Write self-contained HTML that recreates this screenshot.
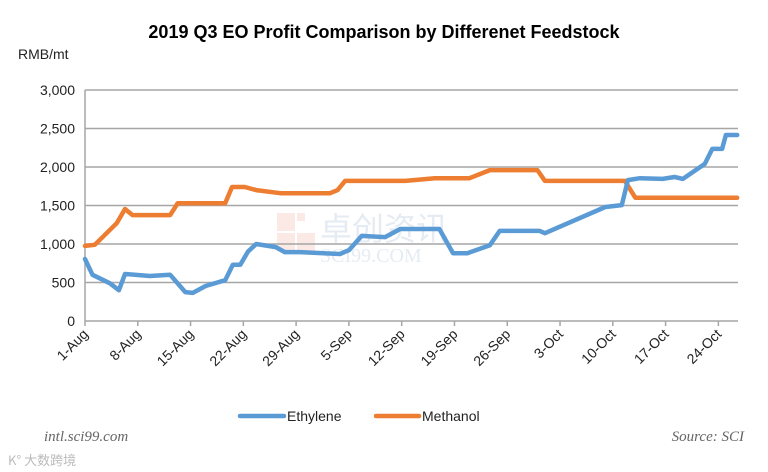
<!DOCTYPE html>
<html><head><meta charset="utf-8"><style>
body{margin:0;background:#fff;}
svg{display:block;font-family:"Liberation Sans","Noto Sans CJK SC",sans-serif;}
</style></head><body>
<svg id="chart" width="768" height="472" viewBox="0 0 768 472">
<text x="384" y="38" text-anchor="middle" font-size="18" font-weight="bold" fill="#000">2019 Q3 EO Profit Comparison by Differenet Feedstock</text>
<text x="18" y="59" font-size="14" fill="#222">RMB/mt</text>
<g opacity="0.12">
<rect x="277" y="213" width="18" height="18" fill="#e05030"/><rect x="297" y="213" width="8" height="8" fill="#e05030"/><rect x="277" y="233" width="18" height="18" fill="#e05030"/><rect x="297" y="233" width="18" height="18" fill="#e05030"/>
<text x="320" y="240" font-size="32" fill="#3060a0" font-family="'Noto Sans CJK SC',sans-serif">卓创资讯</text>
<text x="320" y="262" font-size="20" fill="#3060a0" font-family="'Liberation Serif',serif">SCI99.COM</text>
</g>
<g id="grid"></g><g id="axes"></g><g id="series"></g>
<g>
<line x1="240" y1="416" x2="284" y2="416" stroke="#5b9bd5" stroke-width="4.5" stroke-linecap="round"/>
<text x="287" y="421" font-size="14" fill="#222">Ethylene</text>
<line x1="376" y1="416" x2="419" y2="416" stroke="#ed7d31" stroke-width="4.5" stroke-linecap="round"/>
<text x="422" y="421" font-size="14" fill="#222">Methanol</text>
</g>
<text x="44" y="441" font-size="15" font-style="italic" fill="#666" font-family="'Liberation Serif',serif">intl.sci99.com</text>
<text x="744" y="441" text-anchor="end" font-size="15" font-style="italic" fill="#666" font-family="'Liberation Serif',serif">Source: SCI</text>
<text x="8" y="465" font-size="13" fill="#bbb" font-family="'Noto Sans CJK SC',sans-serif">K° 大数跨境</text>
</svg>
<script>
const yTicks=[0,500,1000,1500,2000,2500,3000];
const xTickLabels=["1-Aug","8-Aug","15-Aug","22-Aug","29-Aug","5-Sep","12-Sep","19-Sep","26-Sep","3-Oct","10-Oct","17-Oct","24-Oct"];
const xTickDays=[0,7,14,21,28,35,42,49,56,63,70,77,84];
const ethDays=[0,1,3.3,4.5,5.3,8.6,11.3,13.3,14.3,16,18.6,19.6,20.6,21.6,22.7,25.3,26.5,28.5,33.8,35,36.7,39.8,41.8,47,48.8,50.7,53.7,55,60.3,61,69,71.2,72,73.6,76.6,78.2,79.3,82.2,83.2,84.5,85,86.5];
const ethVals=[805,600,490,400,610,585,600,375,365,455,530,730,730,900,1000,960,895,895,870,920,1105,1090,1195,1195,880,880,985,1170,1170,1140,1480,1505,1830,1855,1845,1870,1845,2040,2235,2235,2415,2415];
const metDays=[0,1.3,4.2,5.3,6.3,11.3,12.3,18.6,19.5,21.2,22.7,25.9,32.5,33.5,34.5,42.5,46.4,51,53.7,60,61,71.6,73,86.5];
const metVals=[975,990,1270,1455,1375,1375,1530,1530,1740,1740,1700,1660,1660,1700,1820,1820,1855,1855,1960,1960,1820,1820,1600,1600];
const NS="http://www.w3.org/2000/svg";
const X0=85,PXD=7.54,Y0=321,YTOP=90;
const xs=d=>X0+d*PXD;
const ys=v=>Y0-(v/3000)*(Y0-YTOP);
function mk(t,a,p){const e=document.createElementNS(NS,t);for(const k in a)e.setAttribute(k,a[k]);p.appendChild(e);return e;}
const grid=document.getElementById('grid'),axes=document.getElementById('axes'),ser=document.getElementById('series');
yTicks.forEach(v=>{
 if(v>0){const l=mk('line',{x1:X0,x2:738,y1:ys(v),y2:ys(v),stroke:'#a6a6a6','stroke-width':1.5},grid);
 
 }
 const t=mk('text',{x:X0-10,y:ys(v)+5,'text-anchor':'end','font-size':14,fill:'#222'},axes);
 t.textContent=v.toLocaleString('en-US');
 
 
});
const ax=mk('line',{x1:X0,x2:738,y1:Y0,y2:Y0,stroke:'#a6a6a6','stroke-width':1.5},axes);


const ay=mk('line',{x1:X0,x2:X0,y1:YTOP,y2:Y0,stroke:'#a6a6a6','stroke-width':1.5},axes);


xTickLabels.forEach((s,i)=>{
 const x=xs(xTickDays[i]);
 const tk=mk('line',{x1:x,x2:x,y1:Y0,y2:Y0+5,stroke:'#a6a6a6','stroke-width':1.5},axes);
 
 
 const t=mk('text',{x:x+4,y:Y0+14,'text-anchor':'end','font-size':14,fill:'#222',transform:`rotate(-45 ${x+4} ${Y0+14})`},axes);
 t.textContent=s;
 
 
});
function line(days,vals,color,name){
 const d=days.map((dd,i)=>(i?'L':'M')+xs(dd).toFixed(1)+','+ys(vals[i]).toFixed(1)).join(' ');
 const p=mk('path',{d:d,fill:'none',stroke:color,'stroke-width':4.5,'stroke-linejoin':'round','stroke-linecap':'round'},ser);
 
 
}
line(metDays,metVals,'#ed7d31','methanol-line');
line(ethDays,ethVals,'#5b9bd5','ethylene-line');
</script>
</body></html>
